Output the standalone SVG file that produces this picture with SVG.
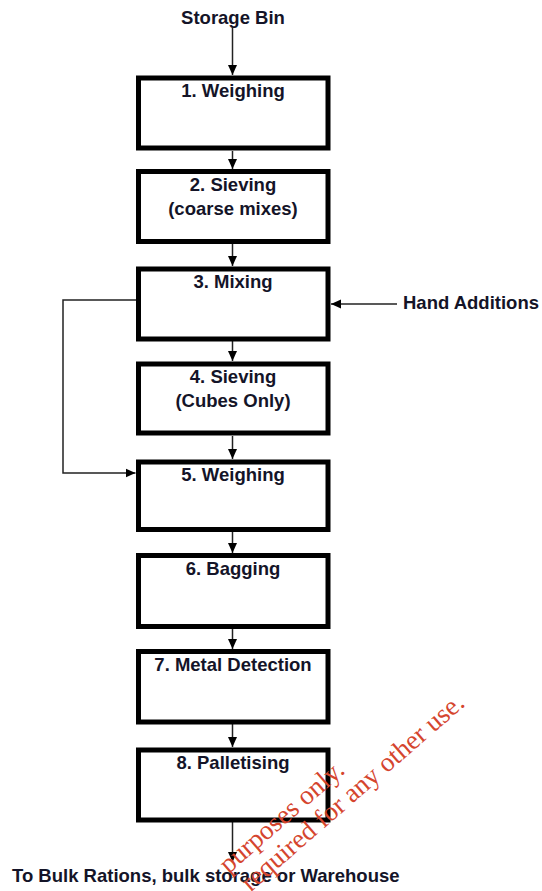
<svg xmlns="http://www.w3.org/2000/svg" width="542" height="891" viewBox="0 0 542 891">
<style>
.box{fill:#fff;stroke:#000;stroke-width:5}
.lbl{font-family:"Liberation Sans",Arial,sans-serif;font-weight:bold;font-size:18.5px;fill:#141428;text-anchor:middle}
.txt{font-family:"Liberation Sans",Arial,sans-serif;font-weight:bold;font-size:18.5px;fill:#141428}
.con{fill:none;stroke:#222;stroke-width:1.5}
.wm{font-family:"Liberation Serif","Times New Roman",serif;font-size:27px;fill:#d5452e;text-anchor:end}
</style>
<defs>
<marker id="ah" markerUnits="userSpaceOnUse" markerWidth="10" markerHeight="11" viewBox="0 0 10 11" refX="10" refY="5" orient="auto">
<path d="M0,0.5 L10,5 L0,9.5 Z" fill="#000"/>
</marker>
</defs>
<text class="lbl" x="233" y="24">Storage Bin</text>
<text class="txt" x="403" y="309">Hand Additions</text>
<text class="txt" x="12" y="882">To Bulk Rations, bulk storage or Warehouse</text>
<g id="connectors">
<line class="con" x1="232.5" y1="27" x2="232.5" y2="75" marker-end="url(#ah)"/>
<line class="con" x1="232.5" y1="151" x2="232.5" y2="169" marker-end="url(#ah)"/>
<line class="con" x1="232.5" y1="244" x2="232.5" y2="266" marker-end="url(#ah)"/>
<line class="con" x1="232.5" y1="341" x2="232.5" y2="361" marker-end="url(#ah)"/>
<line class="con" x1="232.5" y1="436" x2="232.5" y2="459" marker-end="url(#ah)"/>
<line class="con" x1="232.5" y1="532" x2="232.5" y2="553" marker-end="url(#ah)"/>
<line class="con" x1="232.5" y1="628" x2="232.5" y2="649" marker-end="url(#ah)"/>
<line class="con" x1="232.5" y1="724" x2="232.5" y2="747" marker-end="url(#ah)"/>
<line class="con" x1="232.5" y1="822" x2="232.5" y2="862" marker-end="url(#ah)"/>
<line class="con" x1="397" y1="304" x2="331" y2="304" marker-end="url(#ah)"/>
<polyline class="con" points="136,300 63,300 63,473 135.5,473" marker-end="url(#ah)"/>
</g>
<g id="n1"><rect class="box" x="138.5" y="78" width="189.5" height="70"/><text class="lbl" x="233" y="97">1. Weighing</text></g>
<g id="n2"><rect class="box" x="138.5" y="171.5" width="189.5" height="70"/><text class="lbl" x="233" y="191">2. Sieving</text><text class="lbl" x="233" y="215">(coarse mixes)</text></g>
<g id="n3"><rect class="box" x="138.5" y="269" width="189.5" height="70"/><text class="lbl" x="233" y="288">3. Mixing</text></g>
<g id="n4"><rect class="box" x="138.5" y="364" width="189.5" height="69"/><text class="lbl" x="233" y="383">4. Sieving</text><text class="lbl" x="233" y="407">(Cubes Only)</text></g>
<g id="n5"><rect class="box" x="138.5" y="462" width="189.5" height="67.5"/><text class="lbl" x="233" y="481">5. Weighing</text></g>
<g id="n6"><rect class="box" x="138.5" y="555.5" width="189.5" height="71"/><text class="lbl" x="233" y="575">6. Bagging</text></g>
<g id="n7"><rect class="box" x="138.5" y="651.5" width="189.5" height="70.5"/><text class="lbl" x="233" y="671">7. Metal Detection</text></g>
<g id="n8"><rect class="box" x="138.5" y="750" width="189.5" height="70"/><text class="lbl" x="233" y="769">8. Palletising</text></g>
<g id="watermark">
<text class="wm" transform="translate(346,772) rotate(-41)">purposes only.</text>
<text class="wm" transform="translate(466,705) rotate(-41)">required for any other use.</text>
</g>
</svg>
